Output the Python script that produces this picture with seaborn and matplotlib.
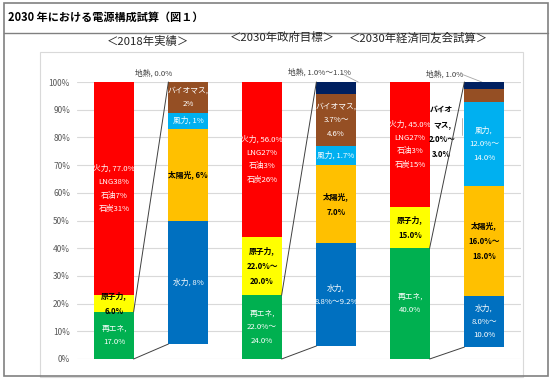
import numpy as np
import pandas as pd
import seaborn as sns
import matplotlib.pyplot as plt
from matplotlib.patches import Rectangle
from matplotlib.lines import Line2D

# bars, left to right: main mix, then the 再エネ breakdown next to it
bar_names = ['2018', '2018内訳', '2030政府', '2030政府内訳', '2030同友会', '2030同友会内訳']

main_parts = ['再エネ', '原子力', '火力']
main_colors = ['#00B050', '#FFFF00', '#FF0000']
main_text = ['white', 'black', 'white']
main_2018 = [17.0, 6.0, 77.0]
main_gov = [23.0, 21.0, 56.0]
main_doyu = [40.0, 15.0, 45.0]

sub_parts = ['水力', '太陽光', '風力', 'バイオマス', '地熱']
sub_colors = ['#0070C0', '#FFC000', '#00B0F0', '#954F24', '#002060']
sub_text = ['white', 'black', 'white', 'white', 'white']
# breakdown bars as drawn (stretched to reach 100%), with the empty base below them
sub_2018 = [44.6, 33.2, 5.6, 11.2, 0.0]
sub_gov = [37.0, 28.2, 6.9, 18.8, 4.4]
sub_doyu = [18.5, 39.5, 30.4, 4.8, 2.5]
sub_base = [5.4, 4.7, 4.3]

main_labels = [
    ['再エネ,\n17.0%', '原子力,\n6.0%', '火力, 77.0%\nLNG38%\n石油7%\n石炭31%'],
    ['再エネ,\n22.0%～\n24.0%', '原子力,\n22.0%～\n20.0%', '火力, 56.0%\nLNG27%\n石油3%\n石炭26%'],
    ['再エネ,\n40.0%', '原子力,\n15.0%', '火力, 45.0%\nLNG27%\n石油3%\n石炭15%'],
]
sub_labels = [
    ['水力, 8%', '太陽光, 6%', '風力, 1%', 'バイオマス,\n2%', None],
    ['水力,\n8.8%～9.2%', '太陽光,\n7.0%', '風力, 1.7%', 'バイオマス,\n3.7%～\n4.6%', None],
    ['水力,\n8.0%～\n10.0%', '太陽光,\n16.0%～\n18.0%', '風力,\n12.0%～\n14.0%', None, None],
]
geo_labels = ['地熱, 0.0%', '地熱, 1.0%～1.1%', '地熱, 1.0%']
subtitles = ['＜2018年実績＞', '＜2030年政府目標＞', '＜2030年経済同友会試算＞']
title = '2030 年における電源構成試算（図１）'

sns.set_theme(style='white')
plt.rcParams['font.family'] = ['Noto Sans CJK JP', 'DejaVu Sans']

rows = []
for k, (mv, sv) in enumerate([(main_2018, sub_2018), (main_gov, sub_gov), (main_doyu, sub_doyu)]):
    b = 0.0
    for p, h, c, tc, lab in zip(main_parts, mv, main_colors, main_text, main_labels[k]):
        rows.append(dict(bar=bar_names[2 * k], part=p, bottom=b, height=h, color=c, tc=tc, label=lab))
        b += h
    b = sub_base[k]
    for p, h, c, tc, lab in zip(sub_parts, sv, sub_colors, sub_text, sub_labels[k]):
        rows.append(dict(bar=bar_names[2 * k + 1], part=p, bottom=b, height=h, color=c, tc=tc, label=lab))
        b += h
df = pd.DataFrame(rows)

W, H = 550, 379
fig = plt.figure(figsize=(W / 100, H / 100), dpi=100)
ax = fig.add_axes([77 / W, 20 / H, 444 / W, 277 / H])

for r in df.itertuples():
    if r.height <= 0:
        continue
    sns.barplot(x=[r.bar], y=[r.height], order=bar_names, bottom=r.bottom, color=r.color,
                saturation=1, width=0.53, linewidth=0, ax=ax, zorder=3)
    if r.label:
        i = bar_names.index(r.bar)
        ax.text(i, r.bottom + r.height / 2, r.label, ha='center', va='center', fontsize=5.6,
                color=r.tc, linespacing=1.9, zorder=5,
                fontweight='bold' if r.tc == 'black' else 'normal')

ax.set_xlim(-0.5, 5.5)
ax.set_ylim(0, 100)
ax.set_yticks(np.arange(0, 101, 10))
ax.set_yticklabels([f'{v}%' for v in range(0, 101, 10)], fontsize=6, color='#595959')
ax.tick_params(axis='y', length=0, pad=5)
ax.set_xticks([])
ax.set_xlabel('')
ax.set_ylabel('')
ax.grid(axis='y', color='#D9D9D9', linewidth=0.8, zorder=0)
for s in ax.spines.values():
    s.set_visible(False)

# connector lines from the 再エネ share to its breakdown bar
hw = 0.53 / 2
for k, mv in enumerate([main_2018, main_gov, main_doyu]):
    i = 2 * k
    ax.plot([i + hw, i + 1 - hw], [mv[0], 100], color='#404040', lw=0.7, zorder=4, clip_on=False)
    ax.plot([i + hw, i + 1 - hw], [0, sub_base[k]], color='#404040', lw=0.7, zorder=4, clip_on=False)

# 地熱 labels above the breakdown bars
ax.text(0.53, 103.0, geo_labels[0], ha='center', va='center', fontsize=5.6, color='#404040')
ax.text(2.78, 103.3, geo_labels[1], ha='center', va='center', fontsize=5.6, color='#404040')
ax.plot([3.08, 3.3], [103.0, 100.0], color='#A6A6A6', lw=0.6, clip_on=False)
ax.text(4.47, 102.6, geo_labels[2], ha='center', va='center', fontsize=5.6, color='#404040')
ax.plot([4.72, 4.97], [102.6, 100.0], color='#A6A6A6', lw=0.6, clip_on=False)
ax.text(4.43, 82.0, 'バイオ\nマス,\n2.0%～\n3.0%', ha='center', va='center', fontsize=5.6,
        color='black', fontweight='bold', linespacing=1.9)
ax.plot([4.7, 4.7], [81.0, 87.0], color='#A6A6A6', lw=0.6)

# frame, title and section headings
def fx(px):
    return px / W

def fy(py):
    return 1 - py / H

fig.patches.append(Rectangle((fx(40), fy(377)), fx(523) - fx(40), fy(52) - fy(377),
                             transform=fig.transFigure, fill=False, edgecolor='#D9D9D9', lw=0.8))
fig.patches.append(Rectangle((fx(4), fy(376)), fx(548) - fx(4), fy(3) - fy(376),
                             transform=fig.transFigure, fill=False, edgecolor='#808080', lw=1.2))
fig.lines.append(Line2D([fx(4), fx(548)], [fy(33), fy(33)], transform=fig.transFigure,
                        color='#808080', lw=1.0))
fig.text(fx(8), fy(17), title, ha='left', va='center', fontsize=8, fontweight='bold', color='black')
for xc, yc, t in zip([148, 282, 418], [41, 38, 38], subtitles):
    fig.text(fx(xc), fy(yc), t, ha='center', va='center', fontsize=8.2, color='#262626')

fig.savefig('out.png', dpi=100, facecolor='white')
